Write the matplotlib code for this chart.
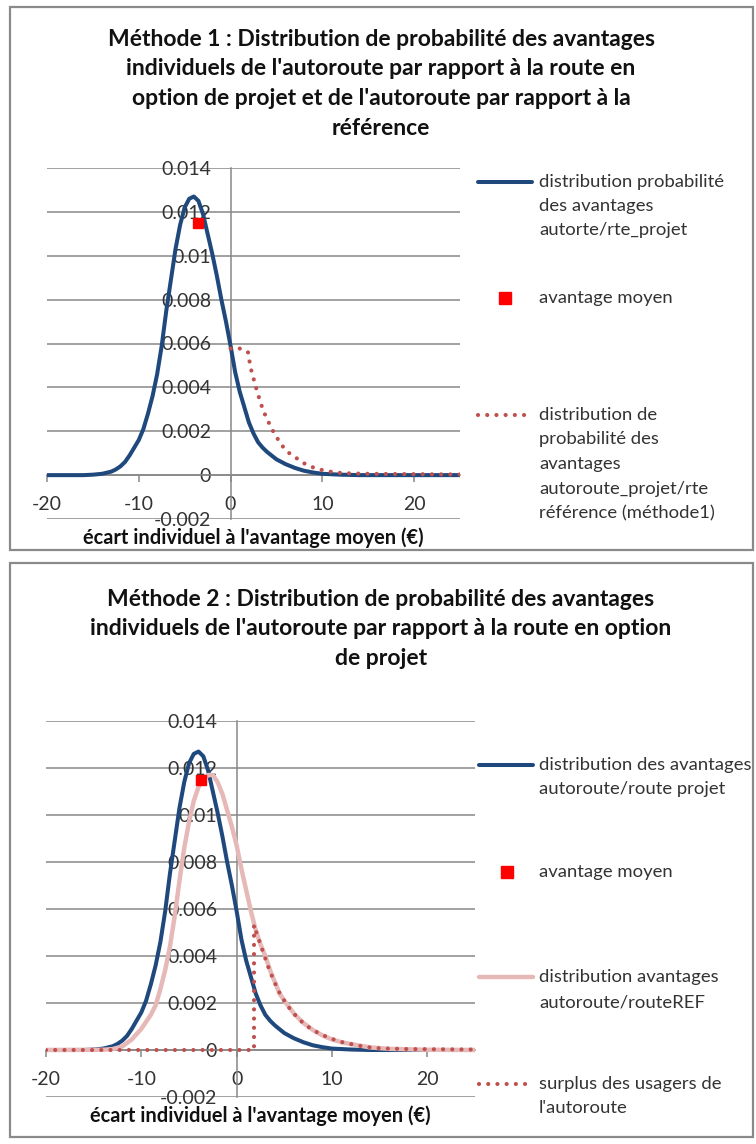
import matplotlib
matplotlib.use('Agg')
import matplotlib.pyplot as plt
from matplotlib.lines import Line2D
from matplotlib.patches import Rectangle

plt.rcParams['font.family'] = ['Lato', 'DejaVu Sans']
plt.rcParams['axes.unicode_minus'] = False

# ---------------- data ----------------
x_ticks = [-20, -10, 0, 10, 20]
x_tick_labels = ['-20', '-10', '0', '10', '20']
y_ticks = [-0.002, 0, 0.002, 0.004, 0.006, 0.008, 0.010, 0.012, 0.014]
y_tick_labels = ['-0.002', '0', '0.002', '0.004', '0.006', '0.008', '0.01', '0.012', '0.014']

# distribution of advantages autoroute / route (projet)
x_projet = [-20, -16, -15, -14, -13, -12.5, -12, -11.5, -11, -10.5, -10, -9.5, -9, -8.5, -8,
            -7.5, -7, -6.5, -6, -5.5, -5, -4.5, -4, -3.5, -3, -2.5, -2, -1.5, -1, -0.5, 0,
            0.5, 1, 1.5, 2, 2.5, 3, 3.5, 4, 5, 6, 7, 8, 9, 10, 12, 14, 20, 25]
y_projet = [0, 0, 0.00002, 0.00006, 0.00016, 0.00026, 0.0004, 0.0006, 0.0009, 0.00125,
            0.0016, 0.0021, 0.0028, 0.0036, 0.0046, 0.0059, 0.0075, 0.0089, 0.0103, 0.0114,
            0.0122, 0.0126, 0.0127, 0.0125, 0.0119, 0.0110, 0.0101, 0.0091, 0.0080, 0.0070,
            0.0059, 0.0047, 0.0038, 0.0031, 0.0024, 0.0019, 0.0015, 0.00125, 0.00105,
            0.00072, 0.0005, 0.00033, 0.0002, 0.00012, 0.00006, 0.00002, 0, 0, 0]

# method 1 : autoroute_projet / rte reference
x_ref_m1 = [0, 1, 1.5, 1.9, 2.1, 2.3, 2.6, 2.9, 3.2, 3.55, 4, 4.5, 5, 5.6, 6.3, 7.2, 8, 9,
            10, 11, 12, 13, 15, 18, 25]
y_ref_m1 = [0.00577, 0.00577, 0.0057, 0.0056, 0.0051, 0.0047, 0.00426, 0.0038, 0.0034,
            0.00295, 0.00254, 0.0021, 0.00174, 0.00135, 0.00103, 0.00077, 0.00054, 0.00035,
            0.00023, 0.00015, 0.0001, 0.00008, 0.00006, 0.00005, 0.00003]

# method 2 : autoroute / route REF
x_ref_m2 = [-20, -14, -13, -12, -11, -10, -9, -8.5, -8, -7.5, -7, -6.5, -6, -5.5, -5, -4.5,
            -4, -3.5, -3, -2.5, -2, -1.5, -1, -0.5, 0, 0.5, 1, 1.5, 2, 2.5, 3, 3.5, 4, 4.5,
            5, 6, 7, 8, 9, 10, 11, 12, 14, 16, 20, 25]
y_ref_m2 = [0, 0.00001, 0.00004, 0.00015, 0.00045, 0.0009, 0.0015, 0.0019, 0.0026, 0.0034,
            0.0044, 0.0057, 0.0072, 0.0086, 0.0097, 0.0106, 0.0112, 0.0115, 0.0117, 0.0117,
            0.0114, 0.0109, 0.0102, 0.0095, 0.0087, 0.0077, 0.0068, 0.0059, 0.0051, 0.0045,
            0.0040, 0.0034, 0.0029, 0.0024, 0.0021, 0.00155, 0.00115, 0.00085, 0.00062,
            0.00045, 0.00033, 0.00025, 0.00011, 0.00005, 0.00001, 0]

# method 2 : surplus des usagers de l'autoroute
x_surplus = [-20, -15, -10, -5, 0, 1.82, 1.82, 2.1, 2.46, 2.88, 3.33, 3.86, 4.49, 5.2, 5.96,
             6.84, 7.79, 8.77, 9.8, 10.9, 11.9, 13, 14, 15.1, 18, 25]
y_surplus = [0, 0, 0, 0, 0, 0, 0.00532, 0.00496, 0.00454, 0.00404, 0.00352, 0.00298, 0.00244,
             0.00196, 0.00156, 0.0012, 0.0009, 0.00068, 0.0005, 0.00035, 0.00026, 0.00017,
             0.00011, 0.00007, 0.00004, 0.00002]

mean_x_m1, mean_y_m1 = [-3.6], [0.0115]
mean_x_m2, mean_y_m2 = [-3.7], [0.0115]

title_m1 = ["Méthode 1 : Distribution de probabilité des avantages",
            "individuels de l'autoroute par rapport à la route en",
            "option de projet et de l'autoroute par rapport à la",
            "référence"]
title_m2 = ["Méthode 2 : Distribution de probabilité des avantages",
            "individuels de l'autoroute par rapport à la route en option",
            "de projet"]
xlabel = "écart individuel à l'avantage moyen (€)"

# ---------------- styles ----------------
BLUE = '#1F497D'
PINK = '#E6B9B8'
RED_DOT = '#C0504D'
RED_SQ = '#FF0000'
GRID = '#878787'
TXT = '#333333'
DOT_LW = 3.0
DOTTED = (0, (0.01, 2.2))
LEG_FS = 13.3

W, H = 756, 1144
fig = plt.figure(figsize=(W / 100, H / 100), dpi=100)


def fx(px):
    return px / W


def fy(py):
    return 1 - py / H


def setup_axes(rect_px, label_y):
    l, t, r, b = rect_px
    ax = fig.add_axes([fx(l), fy(b), (r - l) / W, (b - t) / H])
    ax.set_xlim(-20, 25)
    ax.set_ylim(-0.002, 0.014)
    ax.patch.set_alpha(0)
    for s in ['top', 'right']:
        ax.spines[s].set_visible(False)
    ax.spines['left'].set_position(('data', 0))
    ax.spines['bottom'].set_position(('data', 0))
    for s in ['left', 'bottom']:
        ax.spines[s].set_color(GRID)
        ax.spines[s].set_linewidth(1.1)
        ax.spines[s].set_zorder(1)
    ax.set_yticks(y_ticks)
    ax.set_yticklabels(y_tick_labels)
    ax.set_xticks(x_ticks)
    ax.set_xticklabels(x_tick_labels)
    ax.tick_params(axis='y', length=0, pad=14, labelsize=14, labelcolor=TXT)
    ax.tick_params(axis='x', length=5, width=1.1, color=GRID, direction='out', pad=10,
                   labelsize=14, labelcolor=TXT)
    ax.grid(axis='y', color=GRID, linewidth=1.1, zorder=0)
    ax.set_axisbelow(True)
    ax.set_xlabel(xlabel, fontsize=14.4, fontweight='bold', color='#111111', va='center')
    ax.xaxis.set_label_coords(0.5, label_y)
    return ax


def legend_line(x0, x1, y, **kw):
    fig.add_artist(Line2D([fx(x0), fx(x1)], [fy(y), fy(y)], transform=fig.transFigure, **kw))


def legend_text(x, ys, lines):
    for yy, s in zip(ys, lines):
        fig.text(fx(x), fy(yy), s, fontsize=LEG_FS, color=TXT, va='center', ha='left')


# panel borders
for (t, b) in [(7, 550), (563, 1137)]:
    fig.add_artist(Rectangle((fx(10), fy(b)), (753 - 10) / W, (b - t) / H,
                             transform=fig.transFigure, fill=False, edgecolor='#8a8a8a',
                             linewidth=1.6))

# ---------------- chart 1 ----------------
for i, s in enumerate(title_m1):
    fig.text(fx(381), fy(39 + i * 29.7), s, fontsize=16.5, fontweight='bold',
             ha='center', va='center', color='#111111')

ax1 = setup_axes((47, 168, 460, 519), -0.052)
ax1.plot(x_projet, y_projet, color=BLUE, lw=2.9, solid_capstyle='round', zorder=3)
ax1.plot(x_ref_m1, y_ref_m1, color=RED_DOT, lw=DOT_LW, linestyle=DOTTED,
         dash_capstyle='round', zorder=4)
ax1.plot(mean_x_m1, mean_y_m1, linestyle='none', marker='s', markersize=7.5,
         color=RED_SQ, zorder=5)

legend_line(478, 532, 182, color=BLUE, lw=2.9, solid_capstyle='round')
legend_text(539, [182, 206, 230], ["distribution probabilité", "des avantages",
                                   "autorte/rte_projet"])
fig.add_artist(Line2D([fx(505)], [fy(298)], transform=fig.transFigure, marker='s',
                      markersize=9, color=RED_SQ, linestyle='none'))
legend_text(539, [298], ["avantage moyen"])
legend_line(478, 532, 415, color=RED_DOT, lw=DOT_LW, linestyle=DOTTED, dash_capstyle='round')
legend_text(539, [415, 439, 464, 489, 513], ["distribution de", "probabilité des",
                                             "avantages", "autoroute_projet/rte",
                                             "référence (méthode1)"])

# ---------------- chart 2 ----------------
for i, s in enumerate(title_m2):
    fig.text(fx(381), fy(599 + i * 29.7), s, fontsize=16.5, fontweight='bold',
             ha='center', va='center', color='#111111')

ax2 = setup_axes((46, 721, 475, 1097), -0.0505)
ax2.plot(x_projet, y_projet, color=BLUE, lw=2.9, solid_capstyle='round', zorder=3)
ax2.plot(x_ref_m2, y_ref_m2, color=PINK, lw=3.2, solid_capstyle='round', zorder=4)
ax2.plot(x_surplus, y_surplus, color=RED_DOT, lw=DOT_LW, linestyle=DOTTED,
         dash_capstyle='round', zorder=5)
ax2.plot(mean_x_m2, mean_y_m2, linestyle='none', marker='s', markersize=7.5,
         color=RED_SQ, zorder=6)

legend_line(479, 533, 765, color=BLUE, lw=2.9, solid_capstyle='round')
legend_text(539, [765, 789], ["distribution des avantages", "autoroute/route projet"])
fig.add_artist(Line2D([fx(507)], [fy(872)], transform=fig.transFigure, marker='s',
                      markersize=9, color=RED_SQ, linestyle='none'))
legend_text(539, [872], ["avantage moyen"])
legend_line(479, 533, 977, color=PINK, lw=3.2, solid_capstyle='round')
legend_text(539, [977, 1002], ["distribution avantages", "autoroute/routeREF"])
legend_line(479, 533, 1084, color=RED_DOT, lw=DOT_LW, linestyle=DOTTED, dash_capstyle='round')
legend_text(539, [1084, 1108], ["surplus des usagers de", "l'autoroute"])

fig.savefig('out.png', dpi=100, facecolor='white')
